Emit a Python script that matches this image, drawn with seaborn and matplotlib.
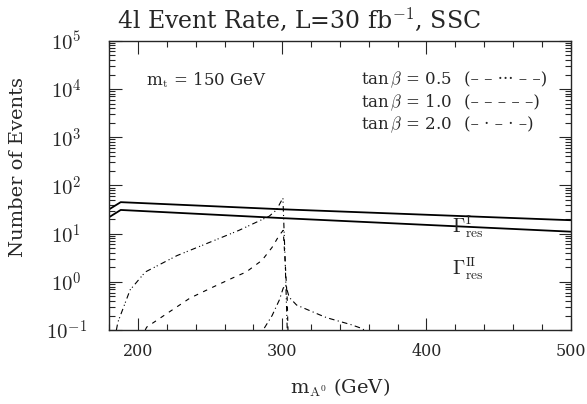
import numpy as np
import matplotlib
matplotlib.use('Agg')
import matplotlib.pyplot as plt
import matplotlib.ticker as mticker
import seaborn as sns

# masses (GeV) and event counts
mA_res = [180, 188, 300, 500]
gamma_I = [32, 45, 32, 19]
gamma_II = [22, 31, 21, 11]

mA_tb05 = [185, 186, 194.5, 205, 227, 248, 270, 291, 296, 300.5, 302, 303.5]
n_tb05 = [0.1, 0.145, 0.68, 1.6, 3.5, 6.3, 11.7, 23, 31, 55, 3.0, 0.1]

mA_tb10 = [205, 206, 220, 236, 252, 265.5, 275, 286, 293, 298, 300.7, 302, 303.5, 304]
n_tb10 = [0.1, 0.115, 0.22, 0.46, 0.78, 1.2, 1.6, 2.8, 5.2, 9.3, 11.7, 2.8, 0.42, 0.1]

mA_tb20 = [287.6, 293, 298, 300.7, 302.5, 304.8, 310, 325.5, 331, 347.6, 354.5, 360]
n_tb20 = [0.11, 0.2, 0.42, 0.74, 0.85, 0.48, 0.33, 0.21, 0.18, 0.13, 0.11, 0.09]

sns.set_style('ticks')
plt.rcParams['font.family'] = ['DejaVu Serif']
plt.rcParams['mathtext.fontset'] = 'cm'

fig = plt.figure(figsize=(5.87, 4.04), dpi=100)
ax = fig.add_axes([0.186, 0.183, 0.786, 0.716])

# Gamma_res curves (solid)
sns.lineplot(x=mA_res, y=gamma_I, ax=ax, color='k', lw=1.3, estimator=None, sort=False)
sns.lineplot(x=mA_res, y=gamma_II, ax=ax, color='k', lw=1.3, estimator=None, sort=False)

# tan(beta) curves
sns.lineplot(x=mA_tb05, y=n_tb05, ax=ax, color='k', lw=0.8, estimator=None, sort=False,
             linestyle=(0, (5, 3, 1, 2, 1, 3)))
sns.lineplot(x=mA_tb10, y=n_tb10, ax=ax, color='k', lw=0.8, estimator=None, sort=False,
             linestyle=(0, (4, 5)))
sns.lineplot(x=mA_tb20, y=n_tb20, ax=ax, color='k', lw=0.8, estimator=None, sort=False,
             linestyle=(0, (5, 3, 1, 3)))

ax.set_yscale('log')
ax.set_xlim(180, 500)
ax.set_ylim(0.1, 1e5)

ax.xaxis.set_major_locator(mticker.MultipleLocator(100))
ax.xaxis.set_minor_locator(mticker.MultipleLocator(20))
ax.yaxis.set_major_locator(mticker.LogLocator(base=10, numticks=10))
ax.yaxis.set_minor_locator(mticker.LogLocator(base=10, subs=np.arange(2, 10), numticks=10))
ax.yaxis.set_minor_formatter(mticker.NullFormatter())
ax.yaxis.set_major_formatter(mticker.FuncFormatter(lambda v, p: r'$10^{%d}$' % round(np.log10(v))))

ax.tick_params(which='both', direction='in', top=True, right=True, width=0.8)
ax.tick_params(which='major', length=9)
ax.tick_params(which='minor', length=4)
ax.tick_params(axis='x', which='major', labelsize=11.5, pad=9)
ax.tick_params(axis='y', which='major', labelsize=15, pad=31)
for lab in ax.get_yticklabels():
    lab.set_horizontalalignment('center')
for sp in ax.spines.values():
    sp.set_linewidth(1.0)

fig.text(0.51, 0.952, r'4l Event Rate, L=30 fb$^{-1}$, SSC', fontsize=17, ha='center', va='center')
ax.set_xlabel(r'm$_{\mathrm{A}^0}$ (GeV)', fontsize=14, labelpad=12)
ax.set_ylabel('Number of Events', fontsize=14)
ax.yaxis.set_label_coords(-0.178, 0.563)

ax.text(0.08, 0.865, r'm$_\mathrm{t}$ = 150 GeV', transform=ax.transAxes, fontsize=12, va='center')
labels = [r'tan$\,\beta$ = 0.5', r'tan$\,\beta$ = 1.0', r'tan$\,\beta$ = 2.0']
styles = ['(– – ··· – –)', '(– – – – –)', '(– · – · –)']
for i, (lab, st) in enumerate(zip(labels, styles)):
    y = 0.865 - i * 0.078
    ax.text(0.545, y, lab, transform=ax.transAxes, fontsize=12, va='center')
    ax.text(0.768, y, st, transform=ax.transAxes, fontsize=12, va='center')

ax.text(418, 14, r'$\Gamma^{\mathrm{I}}_{\mathrm{res}}$', fontsize=14, va='center')
ax.text(418, 1.9, r'$\Gamma^{\mathrm{II}}_{\mathrm{res}}$', fontsize=14, va='center')

fig.savefig('out.png', dpi=100)
